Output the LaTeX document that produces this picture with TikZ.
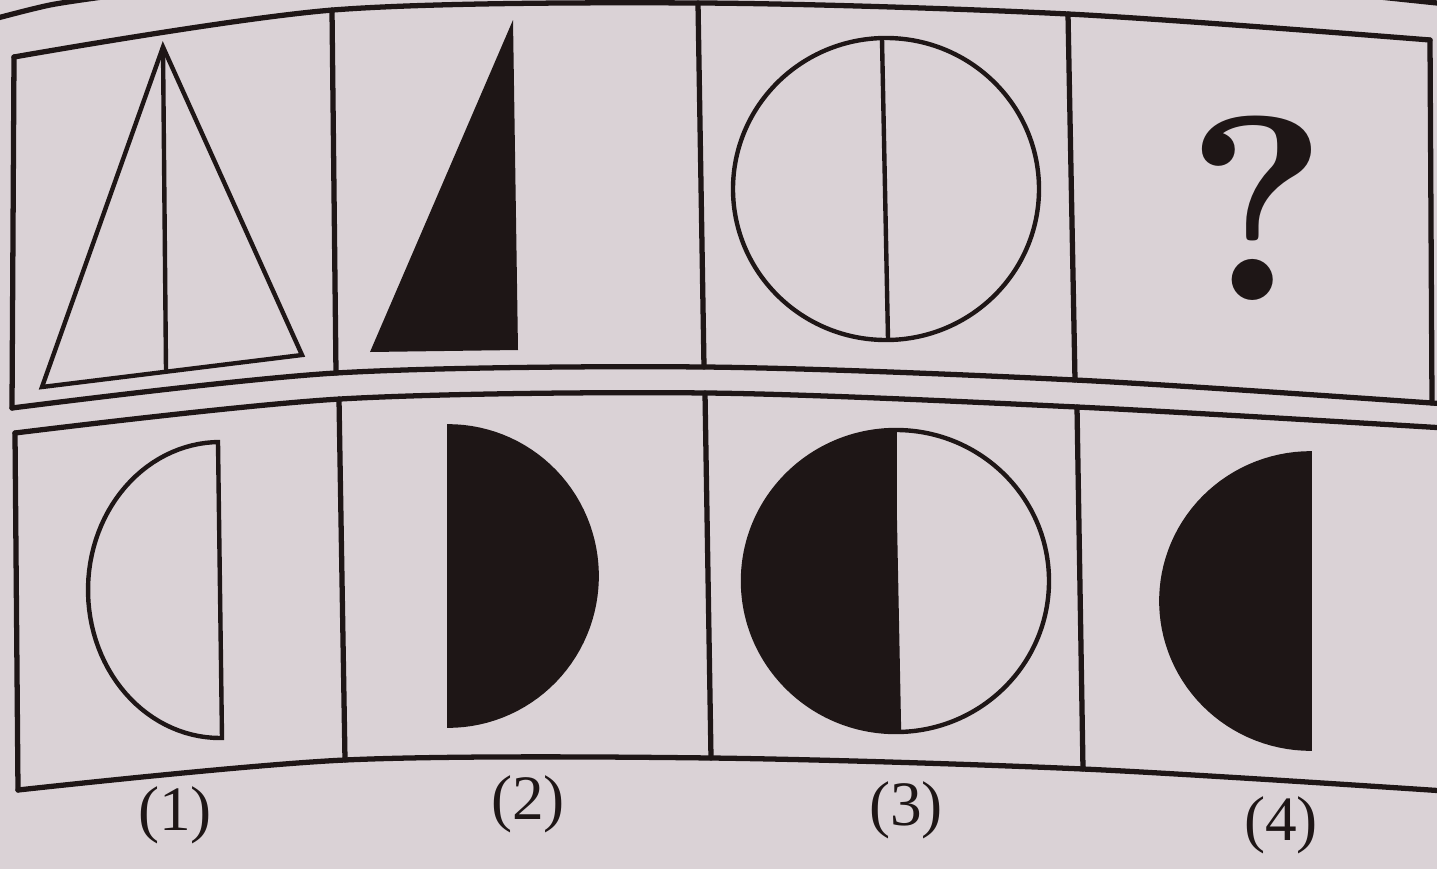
\documentclass[tikz,border=0pt]{standalone}
\usepackage{fontspec}
\setmainfont{Liberation Serif}
\newfontfamily\askfont{lmroman10-bold.otf}
\usepackage{xcolor}
\usepackage{tikz}

\definecolor{paper}{RGB}{218,210,214}
\definecolor{ink}{RGB}{30,22,22}

\begin{document}
\begin{tikzpicture}[
        x=0.02cm, y=-0.02cm,
        frame/.style={draw=ink, line width=3pt, line cap=round, line join=round},
        fig/.style={draw=ink, line width=2.5pt, line join=miter},
        solid fig/.style={fill=ink, draw=ink, line width=1pt},
        lbl/.style={inner sep=0pt, text=ink, font=\fontsize{36}{36}\selectfont},
        ask/.style={inner sep=0pt, text=ink, font=\askfont\fontsize{150}{150}\selectfont}
    ]
        \useasboundingbox (0,0) rectangle (1437,869);
        \fill[paper] (0,0) rectangle (1437,869);
        \clip (0,0) rectangle (1437,869);

        % edge of the box above
        \draw[frame] plot[smooth] coordinates {(-10,20) (50,5) (110,-4)};
        \draw[frame] plot[smooth] coordinates {(1370,-4) (1437,3)};

        % upper row of cells
        \draw[frame] plot[smooth] coordinates {(14,57) (333,10) (700,3) (1068,14) (1430,40)};
        \draw[frame] plot[smooth] coordinates {(12,408) (336,373) (704,367) (1075,380) (1432,403) (1445,405)};
        \draw[frame] (14,57) -- (12,408);
        \draw[frame] (1430,40) -- (1432,403);
        \draw[frame] (332,10) -- (336,373);
        \draw[frame] (698,3) -- (704,367);
        \draw[frame] (1068,14) -- (1075,380);

        % lower row of cells
        \draw[frame] plot[smooth] coordinates {(15,433) (340,399) (707,393) (1077,407) (1445,428)};
        \draw[frame] plot[smooth] coordinates {(18,790) (345,760) (711,758) (1083,769) (1445,791)};
        \draw[frame] (15,433) -- (18,790);
        \draw[frame] (339,399) -- (345,760);
        \draw[frame] (705,393) -- (711,758);
        \draw[frame] (1077,407) -- (1083,769);

        % upper row figures
        \draw[fig] (163,47) -- (42,387) -- (302,355) -- cycle;
        \draw[fig] (163,47) -- (166,370);
        \fill[ink] (513,20) -- (370,352) -- (518,350) -- cycle;
        \draw[fig] (886,189) ellipse [x radius=153, y radius=151];
        \draw[fig] (882,39) -- (888,339);
        \node[ask] (q) at (1257,208) {?};

        % lower row figures
        \draw[fig] (218,442) -- (222,738) -- plot[domain=90:270, samples=60] ({220+132*cos(\x)}, {590+148*sin(\x)}) -- cycle;
        \filldraw[solid fig] plot[domain=-90:90, samples=60] ({448+150*cos(\x)}, {576+151*sin(\x)}) -- cycle;
        \filldraw[solid fig] plot[domain=90:270, samples=60] ({896+153*cos(\x)}, {581+151*sin(\x)}) -- cycle;
        \draw[fig] (896,581) ellipse [x radius=153, y radius=151];
        \draw[fig] (893,430) -- (899,732);
        \filldraw[solid fig] plot[domain=90:270, samples=60] ({1311+151*cos(\x)}, {601+149*sin(\x)}) -- cycle;

        % answer labels
        \node[lbl] (a1) at (175,815) {(1)};
        \node[lbl] (a2) at (528,804) {(2)};
        \node[lbl] (a3) at (906,810) {(3)};
        \node[lbl] (a4) at (1281,825) {(4)};
    \end{tikzpicture}
\end{document}
